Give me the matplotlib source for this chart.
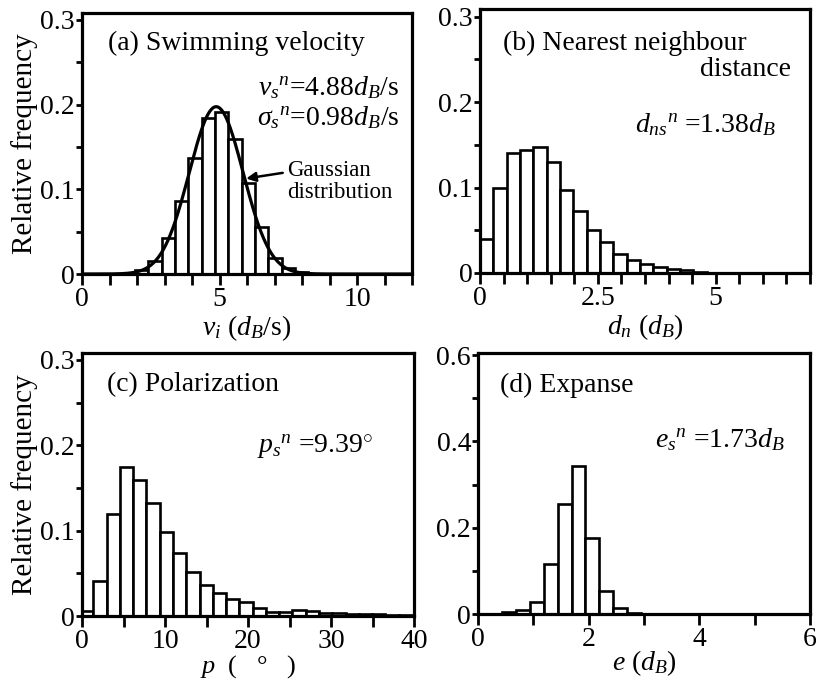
import numpy as np
import matplotlib
matplotlib.use("Agg")
import matplotlib.pyplot as plt

plt.rcParams['font.family'] = ['Liberation Serif', 'DejaVu Serif']
plt.rcParams['mathtext.fontset'] = 'custom'
plt.rcParams['mathtext.rm'] = 'Liberation Serif'
plt.rcParams['mathtext.it'] = 'Liberation Serif:italic'
plt.rcParams['mathtext.bf'] = 'Liberation Serif:bold'

# ---------------- data ----------------
# (a) swimming velocity
a_edge0 = 1.93
a_width = 0.485
a_freq = [0.005, 0.015, 0.043, 0.086, 0.137, 0.184, 0.191, 0.159, 0.107, 0.055, 0.019, 0.007, 0.002]
a_mean = 4.88
a_sd = 0.98

# (b) nearest neighbour distance
b_edge0 = 0.0
b_width = 0.283
b_freq = [0.040, 0.099, 0.141, 0.144, 0.148, 0.130, 0.097, 0.072, 0.050, 0.036,
          0.022, 0.015, 0.011, 0.0065, 0.005, 0.003, 0.001]

# (c) polarization
c_edge0 = -0.24
c_width = 1.6
c_freq = [0.006, 0.041, 0.120, 0.175, 0.159, 0.132, 0.098, 0.074, 0.051, 0.036,
          0.027, 0.020, 0.016, 0.009, 0.005, 0.005, 0.007, 0.006, 0.004, 0.003,
          0.002, 0.002, 0.002, 0.001, 0.001]

# (d) expanse
d_edge0 = 0.44
d_width = 0.25
d_freq = [0.004, 0.009, 0.028, 0.115, 0.255, 0.344, 0.176, 0.053, 0.013, 0.003]

panels = [
    dict(edge0=a_edge0, width=a_width, freq=a_freq, xlim=(0, 12), xstep=1, xlabels=[0, 5, 10],
         ylim=(0, 0.308), ystep=0.05, ylabels=[0, 0.1, 0.2, 0.3],
         xlabel=r"$v_i$ ($d_B$/s)"),
    dict(edge0=b_edge0, width=b_width, freq=b_freq, xlim=(0, 7), xstep=0.5, xlabels=[0, 2.5, 5],
         ylim=(0, 0.309), ystep=0.05, ylabels=[0, 0.1, 0.2, 0.3],
         xlabel=r"$d_n$ ($d_B$)"),
    dict(edge0=c_edge0, width=c_width, freq=c_freq, xlim=(0, 40), xstep=5, xlabels=[0, 10, 20, 30, 40],
         ylim=(0, 0.308), ystep=0.05, ylabels=[0, 0.1, 0.2, 0.3],
         xlabel=r"$p$  (   °   )"),
    dict(edge0=d_edge0, width=d_width, freq=d_freq, xlim=(0, 6), xstep=1, xlabels=[0, 2, 4, 6],
         ylim=(0, 0.605), ystep=0.1, ylabels=[0, 0.2, 0.4, 0.6],
         xlabel=r"$e$ ($d_B$)"),
]

rects = [
    [82/816, 1-274/683, 330/816, 261/683],
    [480/816, 1-273/683, 330/816, 264/683],
    [82/816, 1-616/683, 332/816, 263/683],
    [478/816, 1-614/683, 332/816, 261/683],
]
labelpads = [1, 1, -1, -3]
xlabel_fs = [20, 20, 19, 20]

FS = 20
fig = plt.figure(figsize=(8.16, 6.83), dpi=100)

def fmt(v):
    if v == 0:
        return "0"
    return "%g" % v

axes = []
for p, r, lp, xfs in zip(panels, rects, labelpads, xlabel_fs):
    ax = fig.add_axes(r)
    axes.append(ax)
    n = len(p['freq'])
    lefts = [p['edge0'] + i * p['width'] for i in range(n)]
    ax.bar(lefts, p['freq'], width=p['width'], align='edge', color='white',
           edgecolor='black', linewidth=1.9, zorder=2)
    ax.set_xlim(*p['xlim'])
    ax.set_ylim(*p['ylim'])
    xt = np.arange(p['xlim'][0], p['xlim'][1] + 1e-9, p['xstep'])
    ax.set_xticks(xt)
    ax.set_xticklabels([fmt(v) if any(abs(v - l) < 1e-9 for l in p['xlabels']) else "" for v in xt])
    yt = np.arange(0, p['ylabels'][-1] + 1e-9, p['ystep'])
    ax.set_yticks(yt)
    ax.set_yticklabels([fmt(round(v, 3)) if any(abs(v - l) < 1e-9 for l in p['ylabels']) else "" for v in yt])
    ax.tick_params(axis='x', direction='out', length=8, width=2.0, labelsize=FS, pad=1.5)
    ax.tick_params(axis='y', direction='out', length=4, width=2.0, labelsize=FS, pad=1)
    for s in ax.spines.values():
        s.set_linewidth(2.3)
        s.set_zorder(5)
    ax.set_xlabel(p['xlabel'], fontsize=xfs, labelpad=lp)

axes[0].set_ylabel("Relative frequency", fontsize=21, labelpad=2)
axes[2].set_ylabel("Relative frequency", fontsize=21, labelpad=2)

# Gaussian curve (a), defined by the stated mean and sigma, scaled to bin width
ax = axes[0]
xs = np.linspace(0, 12, 400)
amp = a_width / (a_sd * np.sqrt(2 * np.pi))
gauss = amp * np.exp(-0.5 * ((xs - a_mean) / a_sd) ** 2)
ax.plot(xs, gauss, color='black', linewidth=2.3, zorder=3)
x_tip = 5.92
y_tip = amp * np.exp(-0.5 * ((x_tip - a_mean) / a_sd) ** 2)
ax.annotate("Gaussian\ndistribution", xy=(x_tip, y_tip), xytext=(7.45, 0.109),
            fontsize=16.5, ha='left', va='center', linespacing=1.05,
            arrowprops=dict(arrowstyle='-|>', color='black', lw=1.8, mutation_scale=14,
                            shrinkA=1, shrinkB=1, relpos=(0, 0.72)))

# texts
ax.text(0.079, 0.885, "(a) Swimming velocity", transform=ax.transAxes, fontsize=FS, va='center', ha='left')
ax.text(0.962, 0.713, r"$v_s{}^n$=4.88$d_B$/s", transform=ax.transAxes, fontsize=FS, va='center', ha='right')
ax.text(0.962, 0.598, r"$\sigma_s{}^n$=0.98$d_B$/s", transform=ax.transAxes, fontsize=FS, va='center', ha='right')

ax = axes[1]
ax.text(0.07, 0.871, "(b) Nearest neighbour", transform=ax.transAxes, fontsize=FS, va='center', ha='left')
ax.text(0.942, 0.769, "distance", transform=ax.transAxes, fontsize=FS, va='center', ha='right')
ax.text(0.897, 0.561, r"$d_{ns}{}^n$ =1.38$d_B$", transform=ax.transAxes, fontsize=FS, va='center', ha='right')

ax = axes[2]
ax.text(0.075, 0.878, "(c) Polarization", transform=ax.transAxes, fontsize=FS, va='center', ha='left')
ax.text(0.527, 0.643, r"$p_s{}^n$ =9.39$^{\circ}$", transform=ax.transAxes, fontsize=FS, va='center', ha='left')

ax = axes[3]
ax.text(0.066, 0.877, "(d) Expanse", transform=ax.transAxes, fontsize=FS, va='center', ha='left')
ax.text(0.533, 0.667, r"$e_s{}^n$ =1.73$d_B$", transform=ax.transAxes, fontsize=FS, va='center', ha='left')

fig.savefig("out.png", dpi=100)
